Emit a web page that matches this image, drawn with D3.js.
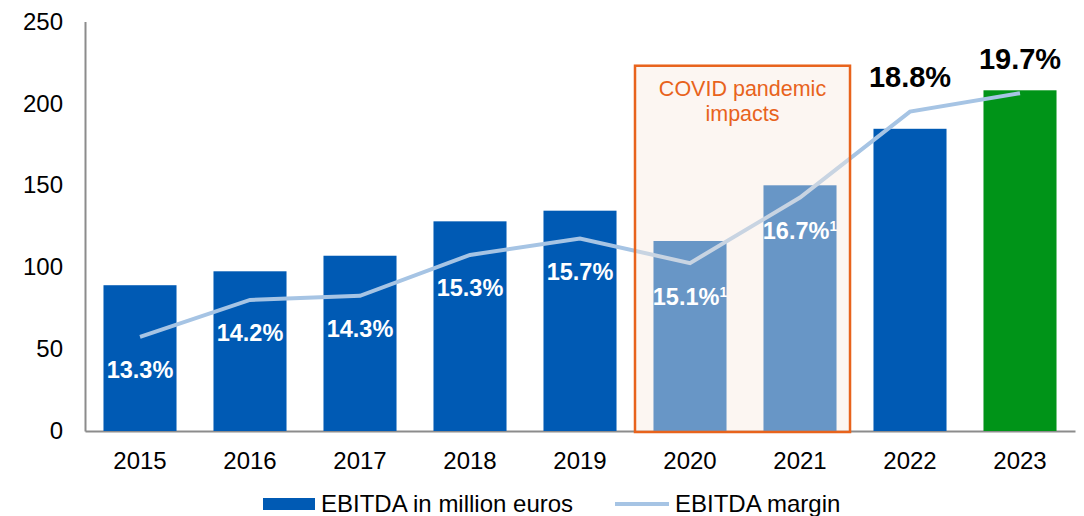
<!DOCTYPE html>
<html lang="en">
<head>
<meta charset="utf-8">
<title>EBITDA and EBITDA margin</title>
<script src="https://cdn.jsdelivr.net/npm/d3@7"></script>
<style>
  body { margin: 0; background: #fff; }
  svg text { font-family: "Liberation Sans", Arial, sans-serif; }
</style>
</head>
<body>
<svg id="chart" width="1084" height="516"></svg>
<script>
// data
var years = ["2015", "2016", "2017", "2018", "2019", "2020", "2021", "2022", "2023"];
var ebitda = [89, 97.5, 107, 128, 134.5, 116, 150, 184.5, 208];       // million euros
var marginLabels = ["13.3%", "14.2%", "14.3%", "15.3%", "15.7%", "15.1%", "16.7%", "18.8%", "19.7%"];
var marginFootnotes = ["", "", "", "", "", "1", "1", "", ""];
var marginLine = [13.3, 14.2, 14.3, 15.3, 15.7, 15.1, 16.7, 18.8, 19.25];  // as plotted (%)
var yTicks = [0, 50, 100, 150, 200, 250];
var covidYears = ["2020", "2021"];
var highlightYear = "2023";
var covidText = ["COVID pandemic", "impacts"];
var legendLabels = ["EBITDA in million euros", "EBITDA margin"];

var svg = d3.select("#chart");
var plotLeft = 85, plotRight = 1075, plotTop = 21.5, plotBottom = 431;

var x = d3.scaleBand().domain(years).range([plotLeft, plotRight]).paddingInner(0.336).paddingOuter(0.168);
var y = d3.scaleLinear().domain([0, 250]).range([plotBottom, plotTop]);
var y2 = d3.scaleLinear().domain([11, 21]).range([plotBottom, plotTop]);   // hidden margin axis

var blue = "#005ab4", green = "#009418", lineBlue = "#a6c4e4", orange = "#e8631c";

// axes
var yAxis = svg.append("g")
  .attr("transform", "translate(" + plotLeft + ",0)")
  .call(d3.axisLeft(y).tickValues(yTicks).tickSize(0).tickSizeOuter(0).tickPadding(22));
yAxis.select(".domain").attr("stroke", "#8c8c8c").attr("stroke-width", 2);
yAxis.selectAll("text").attr("font-size", 24).attr("fill", "#000");

var xAxis = svg.append("g")
  .attr("transform", "translate(0," + plotBottom + ")")
  .call(d3.axisBottom(x).tickSize(0).tickSizeOuter(0).tickPadding(20.5));
xAxis.select(".domain").attr("stroke", "#8c8c8c").attr("stroke-width", 2);
xAxis.selectAll("text").attr("font-size", 24).attr("fill", "#000");

// bars
svg.append("g").selectAll("rect")
  .data(years)
  .join("rect")
  .attr("x", function(d) { return x(d); })
  .attr("width", x.bandwidth())
  .attr("y", function(d, i) { return y(ebitda[i]); })
  .attr("height", function(d, i) { return y(0) - y(ebitda[i]); })
  .attr("fill", function(d) { return d === highlightYear ? green : blue; });

// margin line
var line = d3.line()
  .x(function(d, i) { return x(years[i]) + x.bandwidth() / 2; })
  .y(function(d) { return y2(d); });
svg.append("path")
  .datum(marginLine)
  .attr("d", line)
  .attr("fill", "none")
  .attr("stroke", lineBlue)
  .attr("stroke-width", 4);

// covid box, translucent over the bars and line
var step = x.step();
var boxLeft = x(covidYears[0]) - (step - x.bandwidth()) / 2;
var boxRight = x(covidYears[covidYears.length - 1]) + x.bandwidth() + 13.5;
var boxTop = y(223);
svg.append("rect")
  .attr("x", boxLeft)
  .attr("y", boxTop)
  .attr("width", boxRight - boxLeft)
  .attr("height", plotBottom - boxTop + 1)
  .attr("fill", "rgb(248,234,224)")
  .attr("fill-opacity", 0.42)
  .attr("stroke", orange)
  .attr("stroke-width", 2.5);

svg.append("text")
  .attr("x", (boxLeft + boxRight) / 2)
  .attr("y", boxTop + 30.5)
  .attr("text-anchor", "middle")
  .attr("font-size", 21.5)
  .attr("fill", orange)
  .selectAll("tspan")
  .data(covidText)
  .join("tspan")
  .attr("x", (boxLeft + boxRight) / 2)
  .attr("dy", function(d, i) { return i ? 24.5 : 0; })
  .text(function(d) { return d; });

// margin labels
var labels = svg.append("g").selectAll("text")
  .data(years)
  .join("text")
  .attr("x", function(d) { return x(d) + x.bandwidth() / 2; })
  .attr("y", function(d, i) { return i < 7 ? y2(marginLine[i]) + 41.5 : y2(marginLine[i]) - 24.5; })
  .attr("text-anchor", "middle")
  .attr("font-weight", "bold")
  .attr("font-size", function(d, i) { return i < 7 ? 23.5 : 29; })
  .attr("fill", function(d, i) { return i < 7 ? "#fff" : "#000"; });
labels.append("tspan").text(function(d, i) { return marginLabels[i]; });
labels.append("tspan")
  .attr("font-size", 14)
  .attr("dy", -8)
  .text(function(d, i) { return marginFootnotes[i]; });

// legend
var legend = svg.append("g");
legend.append("rect")
  .attr("x", 263).attr("y", 498).attr("width", 52).attr("height", 12)
  .attr("fill", blue);
legend.append("text")
  .attr("x", 321).attr("y", 512)
  .attr("font-size", 24)
  .text(legendLabels[0]);
legend.append("line")
  .attr("x1", 615).attr("x2", 669).attr("y1", 504).attr("y2", 504)
  .attr("stroke", lineBlue).attr("stroke-width", 4);
legend.append("text")
  .attr("x", 675).attr("y", 512)
  .attr("font-size", 24)
  .text(legendLabels[1]);
</script>
</body>
</html>
